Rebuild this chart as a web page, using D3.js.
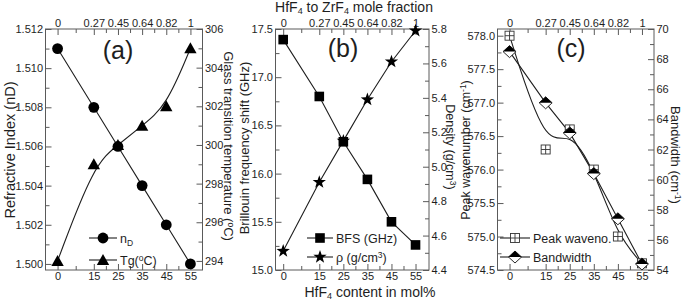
<!DOCTYPE html>
<html><head><meta charset="utf-8">
<script src="https://cdn.jsdelivr.net/npm/d3@7"></script>
<style>
body{margin:0;background:#fff}
svg{display:block}
text{font-family:"Liberation Sans",Arial,sans-serif;fill:#1e1e1e}
</style>
</head><body><svg id="chart" width="685" height="302"></svg>
<script>
// ---- data ----
const hfContent = [0, 15, 25, 35, 45, 55];
const moleFraction = ["0", "0.27", "0.45", "0.64", "0.82", "1"];
const xMinorTicks = [7.5, 20, 30, 40, 50];
const refractiveIndex = [1.511, 1.508, 1.506, 1.504, 1.502, 1.500];
const glassTg = [294, 299, 300, 301, 302, 305];
const bfs = [17.39, 16.80, 16.33, 15.94, 15.50, 15.26];
const density = [4.51, 4.91, 5.15, 5.39, 5.61, 5.79];
const peakWavenumber = [578.0, 576.3, 576.6, 576.0, 575.0, 574.6];
const bandwidth = [68.5, 65.1, 63.1, 60.4, 57.4, 54.4];
const riTicks = [1.500, 1.502, 1.504, 1.506, 1.508, 1.510, 1.512];
const tgTicks = [294, 296, 298, 300, 302, 304, 306];
const bfsTicks = [15.0, 15.5, 16.0, 16.5, 17.0, 17.5];
const densityTicks = [4.4, 4.6, 4.8, 5.0, 5.2, 5.4, 5.6, 5.8];
const peakTicks = [574.5, 575.0, 575.5, 576.0, 576.5, 577.0, 577.5, 578.0];
const bwTicks = [54, 56, 58, 60, 62, 64, 66, 68, 70];

const svg = d3.select("#chart");
const TOP = 29, BOT = 270;
const INK = "#1e1e1e", FRAME = "#5a5a5a";

function midTicks(t) { const r = []; for (let i = 0; i < t.length - 1; i++) r.push((t[i] + t[i + 1]) / 2); return r; }

function drawAxes(g, x, yL, yR, lt, rt, lfmt, rfmt) {
  const fs = "11px";
  const ax = (gen, tr, ticks, fmt, size, labels) => {
    const a = g.append("g").attr("transform", tr)
      .call(gen.tickValues(ticks).tickSize(-size).tickSizeOuter(0).tickPadding(2.5).tickFormat(labels ? fmt : () => ""));
    a.select(".domain").remove();
    a.selectAll("line").attr("stroke", FRAME);
    a.selectAll("text").style("font-size", fs).attr("fill", INK);
    return a;
  };
  ax(d3.axisBottom(x), `translate(0,${BOT})`, hfContent, d => d, 6, true);
  ax(d3.axisBottom(x), `translate(0,${BOT})`, xMinorTicks, null, 4, false);
  ax(d3.axisTop(x), `translate(0,${TOP})`, hfContent, (d, i) => moleFraction[i], 6, true);
  ax(d3.axisTop(x), `translate(0,${TOP})`, xMinorTicks, null, 4, false);
  ax(d3.axisLeft(yL), `translate(${x.range()[0]},0)`, lt, lfmt, 6, true);
  ax(d3.axisLeft(yL), `translate(${x.range()[0]},0)`, midTicks(lt), null, 4, false);
  ax(d3.axisRight(yR), `translate(${x.range()[1]},0)`, rt, rfmt, 6, true);
  ax(d3.axisRight(yR), `translate(${x.range()[1]},0)`, midTicks(rt), null, 4, false);
  g.append("rect").attr("x", x.range()[0]).attr("y", TOP)
    .attr("width", x.range()[1] - x.range()[0]).attr("height", BOT - TOP)
    .attr("fill", "none").attr("stroke", FRAME).attr("stroke-width", 1);
}

function vtext(x, y, rot, parts, size) {
  const t = svg.append("text").attr("transform", `translate(${x},${y}) rotate(${rot})`)
    .attr("text-anchor", "middle").style("font-size", size || "13px");
  parts.forEach(p => {
    const s = t.append("tspan").text(p.t);
    if (p.sub) s.attr("baseline-shift", "-25%").style("font-size", "9px");
    if (p.sup) s.attr("baseline-shift", "40%").style("font-size", "8.5px");
  });
  return t;
}

// ---- markers ----
function starPath(ro, ri) {
  const pts = [];
  for (let i = 0; i < 10; i++) {
    const r = i % 2 ? ri : ro, a = -Math.PI / 2 + i * Math.PI / 5;
    pts.push([r * Math.cos(a), r * Math.sin(a)]);
  }
  return "M" + pts.map(p => p.join(",")).join("L") + "Z";
}
const triPath = "M0,-6L6.2,5L-6.2,5Z";
function drawMarker(g, type, cx, cy) {
  const m = g.append("g").attr("transform", `translate(${cx},${cy})`);
  if (type === "circle") m.append("circle").attr("r", 5.4).attr("fill", "#000");
  if (type === "tri") m.append("path").attr("d", triPath).attr("fill", "#000");
  if (type === "square") m.append("rect").attr("x", -4.8).attr("y", -4.8).attr("width", 9.6).attr("height", 9.6).attr("fill", "#000");
  if (type === "star") m.append("path").attr("d", starPath(7, 2.8)).attr("fill", "#000");
  if (type === "sqplus") {
    m.append("rect").attr("x", -4.5).attr("y", -4.5).attr("width", 9).attr("height", 9).attr("fill", "#fff").attr("stroke", "#333").attr("stroke-width", 0.9);
    m.append("path").attr("d", "M-4.5,0H4.5M0,-4.5V4.5").attr("stroke", "#333").attr("stroke-width", 0.9);
  }
  if (type === "diamond") {
    m.append("path").attr("d", "M-6.5,0L0,-6L6.5,0L0,6Z").attr("fill", "#fff").attr("stroke", "#111").attr("stroke-width", 0.9);
    m.append("path").attr("d", "M-6.5,0L0,-6L6.5,0Z").attr("fill", "#000");
  }
}
function series(g, x, y, vals, curve, marker) {
  const line = d3.line().x((d, i) => x(hfContent[i])).y(d => y(d)).curve(curve);
  g.append("path").attr("d", line(vals)).attr("fill", "none").attr("stroke", INK).attr("stroke-width", 1.1);
  return () => vals.forEach((v, i) => drawMarker(g, marker, x(hfContent[i]), y(v)));
}
function legendRow(g, x0, x1, y, marker, parts) {
  g.append("line").attr("x1", x0).attr("x2", x1).attr("y1", y).attr("y2", y).attr("stroke", INK).attr("stroke-width", 1.1);
  drawMarker(g, marker, (x0 + x1) / 2, y);
  const t = g.append("text").attr("x", x1 + 3).attr("y", y + 4.5).style("font-size", "12.5px");
  parts.forEach(p => {
    const s = t.append("tspan").text(p.t);
    if (p.sub) s.attr("baseline-shift", "-30%").style("font-size", "8.5px");
    if (p.sup) s.attr("baseline-shift", "40%").style("font-size", "8.5px");
  });
}

// ---- panel (a) ----
{
  const x = d3.scaleLinear().domain([-5, 60]).range([45.5, 202.5]);
  const yL = d3.scaleLinear().domain([1.49969, 1.512]).range([BOT, TOP]);
  const yR = d3.scaleLinear().domain([293.53, 306]).range([BOT, TOP]);
  const g = svg.append("g");
  drawAxes(g, x, yL, yR, riTicks, tgTicks, d3.format(".3f"), d3.format("d"));
  const m1 = series(g, x, yL, refractiveIndex, d3.curveLinear, "circle");
  const m2 = series(g, x, yR, glassTg, d3.curveBasis, "tri");
  m1(); m2();
  legendRow(g, 89, 117, 238, "circle", [{t: "n"}, {t: "D", sub: 1}]);
  legendRow(g, 89, 117, 260, "tri", [{t: "Tg("}, {t: "o", sup: 1}, {t: "C)"}]);
  g.append("text").attr("x", 118).attr("y", 59).attr("text-anchor", "middle").style("font-size", "25px").text("(a)");
}
// ---- panel (b) ----
{
  const x = d3.scaleLinear().domain([-3.2, 60.6]).range([275.5, 429]);
  const yL = d3.scaleLinear().domain([15, 17.5]).range([BOT, TOP]);
  const yR = d3.scaleLinear().domain([4.4, 5.8]).range([BOT, TOP]);
  const g = svg.append("g");
  drawAxes(g, x, yL, yR, bfsTicks, densityTicks, d3.format(".1f"), d3.format(".1f"));
  const m1 = series(g, x, yL, bfs, d3.curveLinear, "square");
  const m2 = series(g, x, yR, density, d3.curveLinear, "star");
  m1(); m2();
  legendRow(g, 307, 333, 238, "square", [{t: "BFS (GHz)"}]);
  legendRow(g, 307, 333, 257, "star", [{t: "\u03c1 (g/cm"}, {t: "3", sup: 1}, {t: ")"}]);
  g.append("text").attr("x", 343).attr("y", 57).attr("text-anchor", "middle").style("font-size", "25px").text("(b)");
}
// ---- panel (c) ----
{
  const x = d3.scaleLinear().domain([-5, 60]).range([497.5, 654]);
  const yL = d3.scaleLinear().domain([574.5, 578.1]).range([BOT, TOP]);
  const yR = d3.scaleLinear().domain([54, 70]).range([BOT, TOP]);
  const g = svg.append("g");
  drawAxes(g, x, yL, yR, peakTicks, bwTicks, d3.format(".1f"), d3.format("d"));
  const m1 = series(g, x, yL, peakWavenumber, d3.curveBasis, "sqplus");
  const m2 = series(g, x, yR, bandwidth, d3.curveLinear, "diamond");
  m1(); m2();
  legendRow(g, 500, 530, 238, "sqplus", [{t: "Peak waveno."}]);
  legendRow(g, 500, 530, 257, "diamond", [{t: "Bandwidth"}]);
  g.append("text").attr("x", 571).attr("y", 57).attr("text-anchor", "middle").style("font-size", "25px").text("(c)");
}

// ---- axis titles ----
vtext(15, 150, -90, [{t: "Refractive Index (nD)"}], "14.5px");
vtext(224, 146, 90, [{t: "Glass transition temperature ("}, {t: "o", sup: 1}, {t: "C)"}]);
vtext(249, 148, -90, [{t: "Brillouin frequency shift (GHz)"}]);
vtext(446, 147, 90, [{t: "Density (g/cm"}, {t: "3", sup: 1}, {t: ")"}], "12.5px");
vtext(469.5, 150, -90, [{t: "Peak wavenumber (cm"}, {t: "-1", sup: 1}, {t: ")"}], "12.5px");
vtext(671, 155, 90, [{t: "Bandwidth (cm"}, {t: "-1", sup: 1}, {t: ")"}]);
{
  const t = svg.append("text").attr("x", 354).attr("y", 12).attr("text-anchor", "middle").style("font-size", "14px");
  t.append("tspan").text("HfF");
  t.append("tspan").text("4").attr("baseline-shift", "-25%").style("font-size", "9px");
  t.append("tspan").text(" to ZrF");
  t.append("tspan").text("4").attr("baseline-shift", "-25%").style("font-size", "9px");
  t.append("tspan").text(" mole fraction");
  const b = svg.append("text").attr("x", 370).attr("y", 297).attr("text-anchor", "middle").style("font-size", "14px");
  b.append("tspan").text("HfF");
  b.append("tspan").text("4").attr("baseline-shift", "-25%").style("font-size", "9px");
  b.append("tspan").text(" content in mol%");
}
</script>
</body></html>
